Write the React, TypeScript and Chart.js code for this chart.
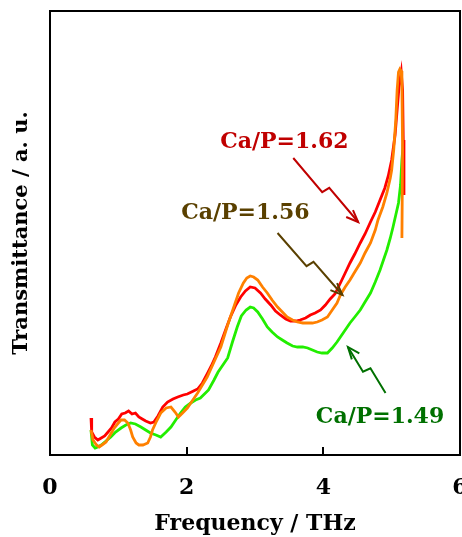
import React, { useEffect, useRef } from "react";
import { Chart, registerables } from "chart.js";
Chart.register(...registerables);

const xTickValues = [0, 2, 4, 6];
const xTitle = "Frequency / THz";
const yTitle = "Transmittance / a. u.";

const red162: [number, number][] = [
  [0.60,37],[0.61,23],[0.65,18],[0.70,15],[0.75,17],[0.80,19],[0.85,23],[0.90,27],[0.95,33],[1.00,36],
  [1.05,41],[1.10,42],[1.15,44],[1.20,41],[1.25,42],[1.30,38],[1.35,36],[1.40,34],[1.47,32],[1.52,33],
  [1.58,39],[1.65,48],[1.72,53],[1.80,56],[1.87,58],[1.95,60],[2.01,61],[2.10,64],[2.16,66],[2.23,72],
  [2.30,81],[2.36,89],[2.42,98],[2.50,112],[2.58,127],[2.64,138],[2.72,150],[2.79,158],[2.86,164],[2.93,168],
  [3.00,167],[3.08,162],[3.15,156],[3.23,150],[3.30,144],[3.37,140],[3.45,136],[3.52,134],[3.60,134],[3.66,135],
  [3.74,137],[3.81,140],[3.88,142],[3.96,145],[4.03,150],[4.10,156],[4.17,161],[4.25,172],[4.32,182],[4.39,192],
  [4.46,201],[4.54,212],[4.61,221],[4.69,233],[4.76,243],[4.83,255],[4.90,267],[4.95,279],[5.00,295],[5.05,320],
  [5.08,345],[5.11,370],[5.14,383],[5.16,365],[5.17,315],[5.18,260]
];

const orange156: [number, number][] = [
  [0.60,25],[0.63,15],[0.68,10],[0.72,8],[0.78,11],[0.82,13],[0.88,20],[0.94,27],[1.00,32],[1.04,35],
  [1.09,35],[1.14,32],[1.18,25],[1.21,18],[1.26,12],[1.30,10],[1.36,10],[1.43,12],[1.47,18],[1.50,25],
  [1.56,34],[1.62,42],[1.70,47],[1.77,48],[1.83,43],[1.88,38],[1.94,42],[2.01,47],[2.08,54],[2.16,62],
  [2.23,70],[2.30,78],[2.40,93],[2.50,108],[2.60,130],[2.69,148],[2.76,162],[2.83,172],[2.88,177],[2.93,179],
  [2.98,178],[3.04,175],[3.11,168],[3.18,162],[3.25,155],[3.33,148],[3.40,143],[3.47,138],[3.55,135],[3.62,133],
  [3.70,132],[3.77,132],[3.84,132],[3.91,133],[3.98,135],[4.06,138],[4.13,145],[4.20,152],[4.25,160],[4.32,168],
  [4.39,175],[4.46,183],[4.54,192],[4.61,202],[4.69,212],[4.76,225],[4.80,235],[4.87,248],[4.93,262],[4.98,277],
  [5.00,285],[5.03,305],[5.06,335],[5.08,365],[5.10,383],[5.12,386],[5.14,384],[5.15,370],[5.16,305],[5.15,217]
];

const green149: [number, number][] = [
  [0.60,25],[0.62,10],[0.66,7],[0.70,8],[0.75,10],[0.82,14],[0.89,18],[0.96,23],[1.04,27],[1.11,30],
  [1.18,32],[1.25,31],[1.33,28],[1.40,25],[1.47,22],[1.55,20],[1.62,18],[1.70,23],[1.77,28],[1.84,35],
  [1.91,42],[1.98,48],[2.06,52],[2.13,55],[2.20,57],[2.26,61],[2.32,65],[2.40,75],[2.46,83],[2.52,89],
  [2.60,97],[2.67,113],[2.74,128],[2.80,139],[2.87,145],[2.93,148],[2.98,147],[3.04,143],[3.11,136],[3.18,128],
  [3.25,123],[3.33,118],[3.40,115],[3.47,112],[3.55,109],[3.62,108],[3.70,108],[3.77,107],[3.84,105],[3.91,103],
  [3.98,102],[4.06,102],[4.13,107],[4.20,113],[4.25,118],[4.32,125],[4.39,132],[4.46,138],[4.54,145],[4.61,153],
  [4.69,162],[4.76,173],[4.83,185],[4.88,195],[4.93,205],[4.98,217],[5.02,228],[5.06,240],[5.10,252],[5.13,270],
  [5.15,295],[5.17,312]
];

const labelTexts = ["Ca/P=1.62", "Ca/P=1.56", "Ca/P=1.49"];
const labelColors = ["#c00000", "#5a4000", "#007000"];
const labelAt: [number, number][] = [[3.43, 313], [2.86, 242], [4.83, 38]];
const arrowFrom: [number, number][] = [[3.56, 297], [3.33, 222], [4.91, 62]];
const arrowTo: [number, number][] = [[4.51, 233], [4.28, 160], [4.36, 108]];

const FONT = "'DejaVu Serif', serif";

const decorPlugin = {
  id: "decor",
  afterDatasetsDraw(chart: any) {
    const ctx = chart.ctx;
    const xs = chart.scales.x;
    const ys = chart.scales.y;
    const a = chart.chartArea;
    ctx.save();
    ctx.strokeStyle = "#000";
    ctx.lineWidth = 2;
    ctx.strokeRect(a.left, a.top, a.right - a.left, a.bottom - a.top);
    xs.ticks.forEach((t: any) => {
      if (t.value <= xs.min || t.value >= xs.max) return;
      const px = Math.round(xs.getPixelForValue(t.value));
      ctx.beginPath();
      ctx.moveTo(px, a.bottom);
      ctx.lineTo(px, a.bottom - 8);
      ctx.stroke();
    });
    for (let i = 0; i < labelTexts.length; i++) {
      ctx.fillStyle = labelColors[i];
      ctx.strokeStyle = labelColors[i];
      ctx.font = "bold 22px " + FONT;
      ctx.textAlign = "center";
      ctx.textBaseline = "middle";
      ctx.fillText(labelTexts[i], xs.getPixelForValue(labelAt[i][0]), ys.getPixelForValue(labelAt[i][1]));
      const sx = xs.getPixelForValue(arrowFrom[i][0]);
      const sy = ys.getPixelForValue(arrowFrom[i][1]);
      const ex = xs.getPixelForValue(arrowTo[i][0]);
      const ey = ys.getPixelForValue(arrowTo[i][1]);
      const dx = ex - sx, dy = ey - sy;
      const len = Math.hypot(dx, dy);
      const ux = dx / len, uy = dy / len;
      const nx = -uy, ny = ux;
      const mx = sx + dx * 0.5, my = sy + dy * 0.5;
      ctx.lineWidth = 2;
      ctx.beginPath();
      ctx.moveTo(sx, sy);
      ctx.lineTo(mx - ux * 1 + nx * 4, my - uy * 1 + ny * 4);
      ctx.lineTo(mx + ux * 1 - nx * 4, my + uy * 1 - ny * 4);
      ctx.lineTo(ex, ey);
      ctx.stroke();
      const hl = 13, ang = 0.38;
      const bx = Math.atan2(dy, dx);
      ctx.beginPath();
      ctx.moveTo(ex - hl * Math.cos(bx - ang), ey - hl * Math.sin(bx - ang));
      ctx.lineTo(ex, ey);
      ctx.lineTo(ex - hl * Math.cos(bx + ang), ey - hl * Math.sin(bx + ang));
      ctx.stroke();
    }
    ctx.restore();
  },
};

export default function App() {
  const ref = useRef<HTMLCanvasElement>(null);
  useEffect(() => {
    document.body.style.margin = "0";
    const toPts = (arr: [number, number][]) => arr.map(([x, y]) => ({ x, y }));
    const chart = new Chart(ref.current!, {
      type: "line",
      data: {
        datasets: [
          { label: "1.56", data: toPts(orange156), borderColor: "#ff8000", borderWidth: 2.8, pointRadius: 0, tension: 0, order: 1 },
          { label: "1.62", data: toPts(red162), borderColor: "#ff0000", borderWidth: 2.8, pointRadius: 0, tension: 0, order: 2 },
          { label: "1.49", data: toPts(green149), borderColor: "#22ee00", borderWidth: 2.8, pointRadius: 0, tension: 0, order: 3 },
        ],
      },
      options: {
        animation: false,
        responsive: false,
        maintainAspectRatio: false,
        layout: { padding: { top: 11, right: 2, bottom: 0, left: 0 } },
        plugins: { legend: { display: false }, tooltip: { enabled: false } },
        scales: {
          x: {
            type: "linear",
            min: 0,
            max: 6,
            afterBuildTicks: (s: any) => { s.ticks = xTickValues.map((v) => ({ value: v })); },
            afterFit: (s: any) => { s.height = 82; s.paddingLeft = 0; s.paddingRight = 0; },
            grid: { display: false, drawTicks: false },
            border: { display: false },
            ticks: { color: "#000", padding: 20, font: { family: FONT, size: 22, weight: "bold" }, maxRotation: 0 },
            title: { display: true, text: xTitle, color: "#000", padding: { top: 0, bottom: 0 }, font: { family: FONT, size: 22, weight: "bold" } },
          },
          y: {
            type: "linear",
            min: 0,
            max: 444,
            afterFit: (s: any) => { s.width = 50; s.paddingTop = 0; s.paddingBottom = 0; },
            grid: { display: false, drawTicks: false },
            border: { display: false },
            ticks: { display: false },
            title: { display: true, text: yTitle, color: "#000", padding: { top: 9, bottom: 0 }, font: { family: FONT, size: 21, weight: "bold" } },
          },
        },
      },
      plugins: [decorPlugin],
    } as any);
    return () => chart.destroy();
  }, []);
  return (
    <div style={{ position: "absolute", left: 0, top: 0, width: 462, height: 537 }}>
      <canvas ref={ref} width={462} height={537} style={{ width: 462, height: 537 }} />
    </div>
  );
}
